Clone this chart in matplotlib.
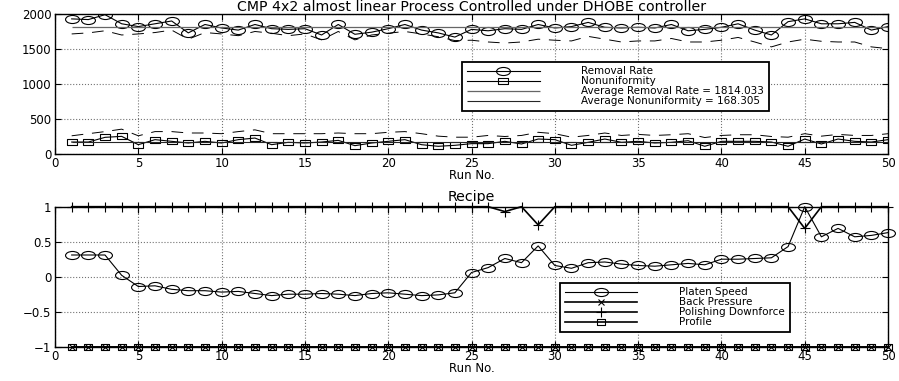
import numpy as np
import matplotlib
matplotlib.use("Agg")
import matplotlib.pyplot as plt
from matplotlib.path import Path
from matplotlib.transforms import Affine2D

plt.rcParams['font.family'] = ['DejaVu Sans']
plt.rcParams['font.size'] = 8.5

runs = np.arange(1, 51)

# top panel
removal_rate = [1930, 1920, 1990, 1860, 1820, 1860, 1900, 1730, 1850, 1800,
                1770, 1850, 1790, 1780, 1790, 1700, 1850, 1710, 1740, 1790,
                1850, 1770, 1730, 1670, 1780, 1760, 1790, 1780, 1850, 1800,
                1820, 1880, 1810, 1800, 1810, 1800, 1850, 1760, 1780, 1810,
                1860, 1770, 1700, 1890, 1930, 1860, 1860, 1880, 1770, 1820]
removal_dashed = [1715, 1730, 1760, 1700, 1715, 1735, 1770, 1640, 1735, 1715,
                  1690, 1750, 1725, 1690, 1715, 1630, 1750, 1630, 1700, 1725,
                  1750, 1715, 1675, 1620, 1625, 1600, 1585, 1600, 1640, 1625,
                  1615, 1680, 1640, 1600, 1615, 1615, 1650, 1600, 1600, 1625,
                  1665, 1600, 1530, 1600, 1640, 1610, 1600, 1600, 1530, 1505]
nonuniformity = [171, 171, 238, 252, 133, 205, 181, 157, 181, 157,
                 205, 228, 133, 167, 157, 171, 195, 119, 157, 181,
                 205, 133, 110, 124, 148, 148, 181, 143, 214, 205,
                 124, 167, 214, 167, 181, 157, 167, 190, 110, 181,
                 181, 181, 171, 110, 214, 143, 214, 181, 171, 205]
nonuni_dashed = [260, 290, 320, 355, 260, 320, 320, 300, 300, 290,
                 320, 345, 290, 290, 290, 290, 300, 290, 290, 310,
                 320, 290, 255, 240, 240, 265, 250, 265, 310, 290,
                 240, 265, 300, 265, 280, 265, 275, 290, 235, 265,
                 275, 275, 250, 240, 290, 255, 280, 265, 265, 290]
avg_removal = 1814.033
avg_nonuni = 168.305

# bottom panel
platen_speed = [0.31, 0.31, 0.31, 0.02, -0.14, -0.13, -0.18, -0.2, -0.2, -0.22,
                -0.21, -0.24, -0.27, -0.25, -0.25, -0.24, -0.25, -0.27, -0.24, -0.23,
                -0.25, -0.27, -0.26, -0.23, 0.06, 0.13, 0.26, 0.2, 0.44, 0.16,
                0.12, 0.2, 0.21, 0.18, 0.16, 0.15, 0.17, 0.19, 0.17, 0.25,
                0.25, 0.26, 0.27, 0.43, 1.0, 0.57, 0.69, 0.57, 0.59, 0.63]
back_pressure = [-1, -1, -1, -1, -1, -1, -1, -1, -1, -1,
                 -1, -1, -1, -1, -1, -1, -1, -1, -1, -1,
                 -1, -1, -1, -1, -1, -1, -1, -1, -1, -1,
                 -1, -1, -1, -1, -1, -1, -1, -1, -1, -1,
                 -1, -1, -1, -1, -1, -1, -1, -1, -1, -1]
downforce = [1, 1, 1, 1, 1, 1, 1, 1, 1, 1,
             1, 1, 1, 1, 1, 1, 1, 1, 1, 1,
             1, 1, 1, 1, 1, 1, 0.93, 1, 0.74, 1,
             1, 1, 1, 1, 1, 1, 1, 1, 1, 1,
             1, 1, 1, 1, 0.69, 1, 1, 1, 1, 1]
profile = [-1, -1, -1, -1, -1, -1, -1, -1, -1, -1,
           -1, -1, -1, -1, -1, -1, -1, -1, -1, -1,
           -1, -1, -1, -1, -1, -1, -1, -1, -1, -1,
           -1, -1, -1, -1, -1, -1, -1, -1, -1, -1,
           -1, -1, -1, -1, -1, -1, -1, -1, -1, -1]

xticks = [0, 5, 10, 15, 20, 25, 30, 35, 40, 45, 50]
top_yticks = [0, 500, 1000, 1500, 2000]
bot_yticks = [-1, -0.5, 0, 0.5, 1]
bot_yticklabels = ['\u22121', '\u22120.5', '0', '0.5', '1']

# the original was stretched sideways, so markers are flat
ellipse = Path.unit_circle().transformed(Affine2D().scale(1, 0.58))
rect = Path([(-1, -0.7), (1, -0.7), (1, 0.7), (-1, 0.7), (-1, -0.7)],
            [Path.MOVETO, Path.LINETO, Path.LINETO, Path.LINETO, Path.CLOSEPOLY])

dash = (0, (12, 9))


def style(ax, yticks):
    ax.set_xlim(0, 50)
    ax.set_xticks(xticks)
    ax.set_yticks(yticks)
    ax.grid(True, color='0.45', linestyle=':', linewidth=0.8)
    ax.tick_params(direction='in', top=True, right=True, length=4,
                   width=0.8, pad=2.5)
    for s in ax.spines.values():
        s.set_linewidth(1.0)


def legend(ax, anchor):
    leg = ax.legend(loc='upper left', bbox_to_anchor=anchor,
                    borderaxespad=0, fancybox=False, framealpha=1,
                    edgecolor='k', handlelength=7, handletextpad=4,
                    labelspacing=0, borderpad=0.45, fontsize=7.5,
                    handleheight=0.6)
    leg.get_frame().set_linewidth(1.3)
    return leg


fig = plt.figure(figsize=(8.99, 3.81), dpi=100)

ax1 = fig.add_axes([0.0612, 0.5958, 0.9266, 0.3675])
ax1.plot(runs, removal_rate, 'k-', marker=ellipse, markersize=10,
         markerfacecolor='none', markeredgewidth=0.8, linewidth=0.8,
         label='Removal Rate')
ax1.plot(runs, nonuniformity, 'k-', marker=rect, markersize=7,
         markerfacecolor='none', markeredgewidth=0.8, linewidth=0.8,
         label='Nonuniformity')
ax1.hlines(avg_removal, runs[0], runs[-1], color='0.4', linewidth=0.9,
           label='Average Removal Rate = %.3f' % avg_removal)
ax1.hlines(avg_nonuni, runs[0], runs[-1], color='0.15', linewidth=0.8,
           label='Average Nonuniformity = %.3f' % avg_nonuni)
ax1.plot(runs, removal_dashed, color='k', linestyle=dash, linewidth=0.7)
ax1.plot(runs, nonuni_dashed, color='k', linestyle=dash, linewidth=0.7)
ax1.set_ylim(0, 2000)
style(ax1, top_yticks)
ax1.set_title('CMP 4x2 almost linear Process Controlled under DHOBE controller',
              pad=2.5)
ax1.set_xlabel('Run No.', labelpad=-1)
legend(ax1, (0.4886, 0.66))

ax2 = fig.add_axes([0.0612, 0.09, 0.9266, 0.3675])
ax2.plot(runs, platen_speed, 'k-', marker=ellipse, markersize=10,
         markerfacecolor='none', markeredgewidth=0.8, linewidth=0.8,
         label='Platen Speed', clip_on=False)
ax2.plot(runs, back_pressure, 'k-', marker='x', markersize=4,
         markeredgewidth=0.8, linewidth=1.2,
         label='Back Pressure', clip_on=False)
ax2.plot(runs, downforce, 'k-', marker='+', markersize=7,
         markeredgewidth=0.8, linewidth=1.2,
         label='Polishing Downforce', clip_on=False)
ax2.plot(runs, profile, 'k-', marker=rect, markersize=6,
         markerfacecolor='none', markeredgewidth=0.8, linewidth=1.2,
         label='Profile', clip_on=False)
ax2.set_ylim(-1, 1)
style(ax2, bot_yticks)
ax2.set_yticklabels(bot_yticklabels)
ax2.set_title('Recipe', pad=4)
ax2.set_xlabel('Run No.', labelpad=-1)
legend(ax2, (0.606, 0.457))

fig.savefig('out.png', dpi=100)
